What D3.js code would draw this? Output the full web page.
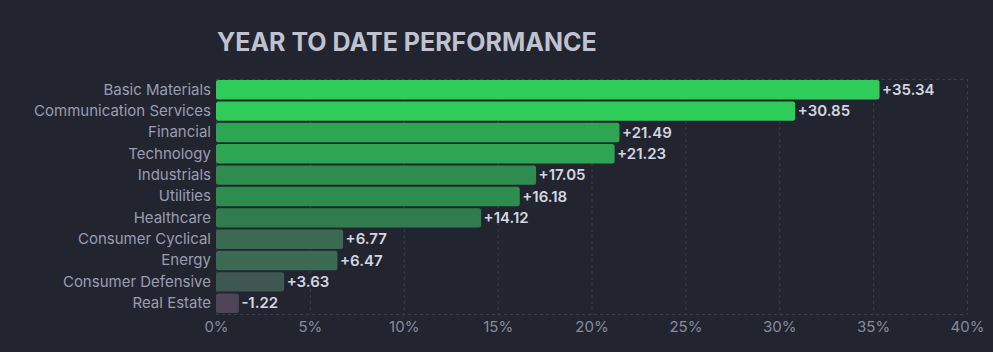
<!DOCTYPE html>
<html>
<head>
    <meta charset="UTF-8">
    <title>Year to date performance</title>
    <style>
        html, body { margin: 0; padding: 0; background: #22252f; }
        svg text { font-family: Inter, "Noto Sans", sans-serif; }
    </style>
</head>
<body>
<script src="https://cdn.jsdelivr.net/npm/d3@7/dist/d3.min.js"></script>
<script>

    var width = 993;
    var height = 352;
    var margin = {top: 79, right: 26, bottom: 38, left: 216};

    // data
    var sectors = ["Basic Materials", "Communication Services", "Financial", "Technology",
        "Industrials", "Utilities", "Healthcare", "Consumer Cyclical", "Energy",
        "Consumer Defensive", "Real Estate"];
    var ytd = [35.34, 30.85, 21.49, 21.23, 17.05, 16.18, 14.12, 6.77, 6.47, 3.63, -1.22];
    var xTicks = [0, 5, 10, 15, 20, 25, 30, 35, 40];

    var rows = sectors.map((s, i) => ({name: s, value: ytd[i]}));

    var svg = d3.select("body").append("svg")
        .attr("width", width)
        .attr("height", height)
        .style("display", "block");

    var x = d3.scaleLinear()
        .domain([0, 40])
        .range([margin.left, width - margin.right]);

    var y = d3.scaleBand()
        .domain(sectors)
        .range([margin.top, height - margin.bottom])
        .paddingInner(0.09)
        .paddingOuter(0.05);

    // colour by performance
    var color = d3.scaleThreshold()
        .domain([0, 5, 10, 15, 20, 30])
        .range(["#4f4458", "#3e5752", "#3a6a52", "#2f7d4e", "#2f8c4f", "#2ea552", "#30cc5a"]);

    // grid
    var grid = svg.append("g");
    grid.selectAll("line.v")
        .data(xTicks)
        .join("line")
        .attr("class", "v")
        .attr("x1", d => x(d) + 0.5)
        .attr("x2", d => x(d) + 0.5)
        .attr("y1", margin.top)
        .attr("y2", height - margin.bottom)
        .attr("stroke", "#3a3e4c")
        .attr("stroke-dasharray", "3,3");
    [margin.top, height - margin.bottom].forEach(function (yy) {
        grid.append("line")
            .attr("x1", x(0)).attr("x2", x(40))
            .attr("y1", yy + 0.5).attr("y2", yy + 0.5)
            .attr("stroke", "#3a3e4c")
            .attr("stroke-dasharray", "3,3");
    });

    // x axis labels
    var xAxis = d3.axisBottom(x)
        .tickValues(xTicks)
        .tickFormat(d => d + "%")
        .tickSize(0)
        .tickPadding(7);
    var gx = svg.append("g")
        .attr("transform", "translate(0," + (height - margin.bottom) + ")")
        .call(xAxis)
        .attr("font-family", null)
        .attr("font-size", null);
    gx.select(".domain").remove();
    gx.selectAll("text")
        .attr("fill", "#888b9e")
        .style("font-size", "15px");

    // y axis labels
    var yAxis = d3.axisLeft(y).tickSize(0).tickPadding(5);
    var gy = svg.append("g")
        .attr("transform", "translate(" + margin.left + ",0)")
        .call(yAxis)
        .attr("font-family", null)
        .attr("font-size", null);
    gy.select(".domain").remove();
    gy.selectAll("text")
        .attr("fill", "#9a9db0")
        .style("font-size", "15px");

    // bars
    svg.append("g")
        .selectAll("rect")
        .data(rows)
        .join("rect")
        .attr("x", x(0))
        .attr("y", d => y(d.name))
        .attr("width", d => x(Math.abs(d.value)) - x(0))
        .attr("height", y.bandwidth())
        .attr("rx", 2.5)
        .attr("fill", d => color(d.value));

    // value labels
    svg.append("g")
        .selectAll("text")
        .data(rows)
        .join("text")
        .attr("x", d => x(Math.abs(d.value)) + 2.5)
        .attr("y", d => y(d.name) + y.bandwidth() / 2)
        .attr("dy", "0.35em")
        .attr("fill", "#d4d6e0")
        .style("font-size", "15px")
        .style("font-weight", "600")
        .text(d => (d.value > 0 ? "+" : "") + d.value.toFixed(2));

    // title
    svg.append("text")
        .attr("x", margin.left + 1)
        .attr("y", 50.5)
        .attr("fill", "#c0c2d0")
        .style("font-size", "25px")
        .style("font-weight", "700")
        .text("YEAR TO DATE PERFORMANCE");

</script>
</body>
</html>
